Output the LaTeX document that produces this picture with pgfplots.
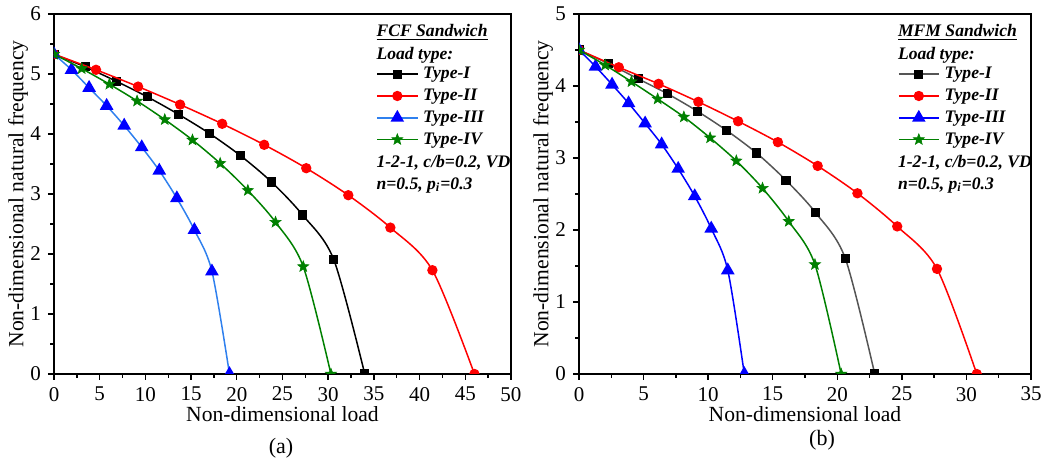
\documentclass[border=0pt]{standalone}
\usepackage{fontspec}
\setmainfont{Liberation Serif}
\usepackage{pgfplots}
\pgfplotsset{compat=1.18}

\definecolor{cI}{HTML}{000000}
\definecolor{cIgray}{HTML}{555555}
\definecolor{cII}{HTML}{FF0000}
\definecolor{cIII}{HTML}{0000FF}
\definecolor{cIIIline}{HTML}{2F80EE}
\definecolor{cIV}{HTML}{008000}

% filled five-pointed star
\pgfdeclareplotmark{fstar}{%
  \pgfpathmoveto{\pgfpointpolar{90}{\pgfplotmarksize}}%
  \pgfpathlineto{\pgfpointpolar{126}{0.42\pgfplotmarksize}}%
  \pgfpathlineto{\pgfpointpolar{162}{\pgfplotmarksize}}%
  \pgfpathlineto{\pgfpointpolar{198}{0.42\pgfplotmarksize}}%
  \pgfpathlineto{\pgfpointpolar{234}{\pgfplotmarksize}}%
  \pgfpathlineto{\pgfpointpolar{270}{0.42\pgfplotmarksize}}%
  \pgfpathlineto{\pgfpointpolar{306}{\pgfplotmarksize}}%
  \pgfpathlineto{\pgfpointpolar{342}{0.42\pgfplotmarksize}}%
  \pgfpathlineto{\pgfpointpolar{18}{\pgfplotmarksize}}%
  \pgfpathlineto{\pgfpointpolar{54}{0.42\pgfplotmarksize}}%
  \pgfpathclose
  \pgfusepathqfillstroke}

\pgfplotsset{
  sandwich/.style={
    scale only axis, height=180pt,
    ymin=0, xmin=0,
    axis line style={line width=0.9pt},
    tick style={line width=0.7pt, black},
    tick align=outside, xtick pos=bottom, ytick pos=left,
    major tick length=3pt, minor tick length=1.8pt,
    minor x tick num=1, minor y tick num=1,
    /pgf/number format/assume math mode=true,
    tick label style={font=\fontsize{10.5}{12}\selectfont},
    label style={font=\fontsize{10.8}{12}\selectfont},
    xlabel={Non-dimensional load},
    ylabel={Non-dimensional natural frequency},
    xlabel style={at={(axis description cs:0.5,0)}, anchor=center, yshift=-20pt},
    clip marker paths=true,
    every axis plot/.append style={line width=0.75pt, smooth, tension=0.5},
    legend style={draw=none, fill=none, inner sep=0pt, anchor=west,
      font=\fontsize{8.8}{10}\selectfont\bfseries\itshape,
      row sep=2.1pt,
      nodes={inner xsep=2.5pt, inner ysep=0pt, text height=6.8pt, text depth=2pt}},
    legend cell align=left,
    legend image code/.code={
      \draw[line width=0.75pt, mark repeat=2, mark phase=2, #1] plot coordinates {(0pt,0pt) (10pt,0pt) (20pt,0pt)};},
  },
  mI/.style={mark=square*, mark size=1.9pt, mark options={solid, fill=black, draw=black}},
  mII/.style={mark=*, mark size=2.2pt, mark options={solid, fill=cII, draw=cII}},
  mIII/.style={mark=triangle*, mark size=3.2pt, mark options={solid, fill=cIII, draw=cIII}},
  mIV/.style={mark=fstar, mark size=2.9pt, mark options={solid, fill=cIV, draw=cIV, line width=0.3pt}},
}

\newcommand{\notes}[1]{%
  \node[anchor=west, inner sep=0pt, font=\fontsize{8.8}{10}\selectfont\bfseries\itshape]
    at (rel axis cs:0.705,0.949) {\underline{#1 Sandwich}};
  \node[anchor=west, inner sep=0pt, font=\fontsize{8.8}{10}\selectfont\bfseries\itshape]
    at (rel axis cs:0.705,0.886) {Load type:};
  \node[anchor=west, inner sep=0pt, font=\fontsize{8.8}{10}\selectfont\bfseries\itshape]
    at (rel axis cs:0.705,0.586) {1-2-1, c/b=0.2, VD};
  \node[anchor=west, inner sep=0pt, font=\fontsize{8.8}{10}\selectfont\bfseries\itshape]
    at (rel axis cs:0.705,0.524) {n=0.5, p\textsubscript{i}=0.3};
}

\begin{document}
\begin{tikzpicture}
\useasboundingbox (0,0) rectangle (524pt,232pt);

% (a) FCF sandwich
\begin{axis}[sandwich, at={(27pt,45pt)}, anchor=south west,
  width=228.5pt, xmax=50, ymax=6,
  xtick={0,5,...,50}, ytick={0,1,...,6},
  ylabel style={at={(axis description cs:-0.0788,0.5)}, anchor=center},
  legend style={at={(0.705,0.742)}}]
  \addplot[cI, mI] coordinates {(0,5.33)(3.4,5.12)(6.8,4.88)(10.2,4.62)(13.6,4.33)(17.0,4.01)(20.4,3.64)(23.8,3.20)(27.2,2.65)(30.6,1.91)(34.0,0)};
  \addplot[cII, mII] coordinates {(0,5.33)(4.6,5.07)(9.2,4.79)(13.8,4.49)(18.4,4.17)(23.0,3.82)(27.6,3.43)(32.2,2.98)(36.8,2.44)(41.4,1.73)(46.0,0)};
  \addplot[cIIIline, mIII] coordinates {(0,5.33)(1.92,5.07)(3.84,4.77)(5.76,4.47)(7.68,4.14)(9.6,3.78)(11.52,3.39)(13.44,2.93)(15.36,2.40)(17.28,1.71)(19.2,0)};
  \addplot[cIV, mIV] coordinates {(0,5.33)(3.03,5.09)(6.06,4.83)(9.09,4.55)(12.12,4.24)(15.15,3.90)(18.18,3.51)(21.21,3.06)(24.24,2.53)(27.27,1.79)(30.3,0)};
  \legend{Type-I, Type-II, Type-III, Type-IV}
  \notes{FCF}
\end{axis}

% (b) MFM sandwich
\begin{axis}[sandwich, at={(289.5pt,45pt)}, anchor=south west,
  width=226pt, xmax=35, ymax=5,
  xtick={0,5,...,35}, ytick={0,1,...,5},
  ylabel style={at={(axis description cs:-0.0796,0.5)}, anchor=center},
  legend style={at={(0.705,0.742)}}]
  \addplot[cIgray, mI] coordinates {(0,4.5)(2.29,4.31)(4.58,4.10)(6.87,3.89)(9.16,3.65)(11.45,3.38)(13.74,3.07)(16.03,2.69)(18.32,2.24)(20.61,1.61)(22.9,0)};
  \addplot[cII, mII] coordinates {(0,4.5)(3.08,4.26)(6.16,4.03)(9.24,3.78)(12.32,3.51)(15.4,3.22)(18.48,2.89)(21.56,2.51)(24.64,2.05)(27.72,1.46)(30.8,0)};
  \addplot[cIII, mIII] coordinates {(0,4.5)(1.28,4.27)(2.56,4.02)(3.84,3.76)(5.12,3.48)(6.4,3.19)(7.68,2.85)(8.96,2.47)(10.24,2.02)(11.52,1.44)(12.8,0)};
  \addplot[cIV, mIV] coordinates {(0,4.5)(2.03,4.29)(4.06,4.06)(6.09,3.82)(8.12,3.57)(10.15,3.28)(12.18,2.96)(14.21,2.58)(16.24,2.12)(18.27,1.52)(20.3,0)};
  \legend{Type-I, Type-II, Type-III, Type-IV}
  \notes{MFM}
\end{axis}

\node[font=\fontsize{11}{12}\selectfont] at (140.5pt,8pt) {(a)};
\node[font=\fontsize{11}{12}\selectfont] at (411pt,12pt) {(b)};
\end{tikzpicture}
\end{document}
